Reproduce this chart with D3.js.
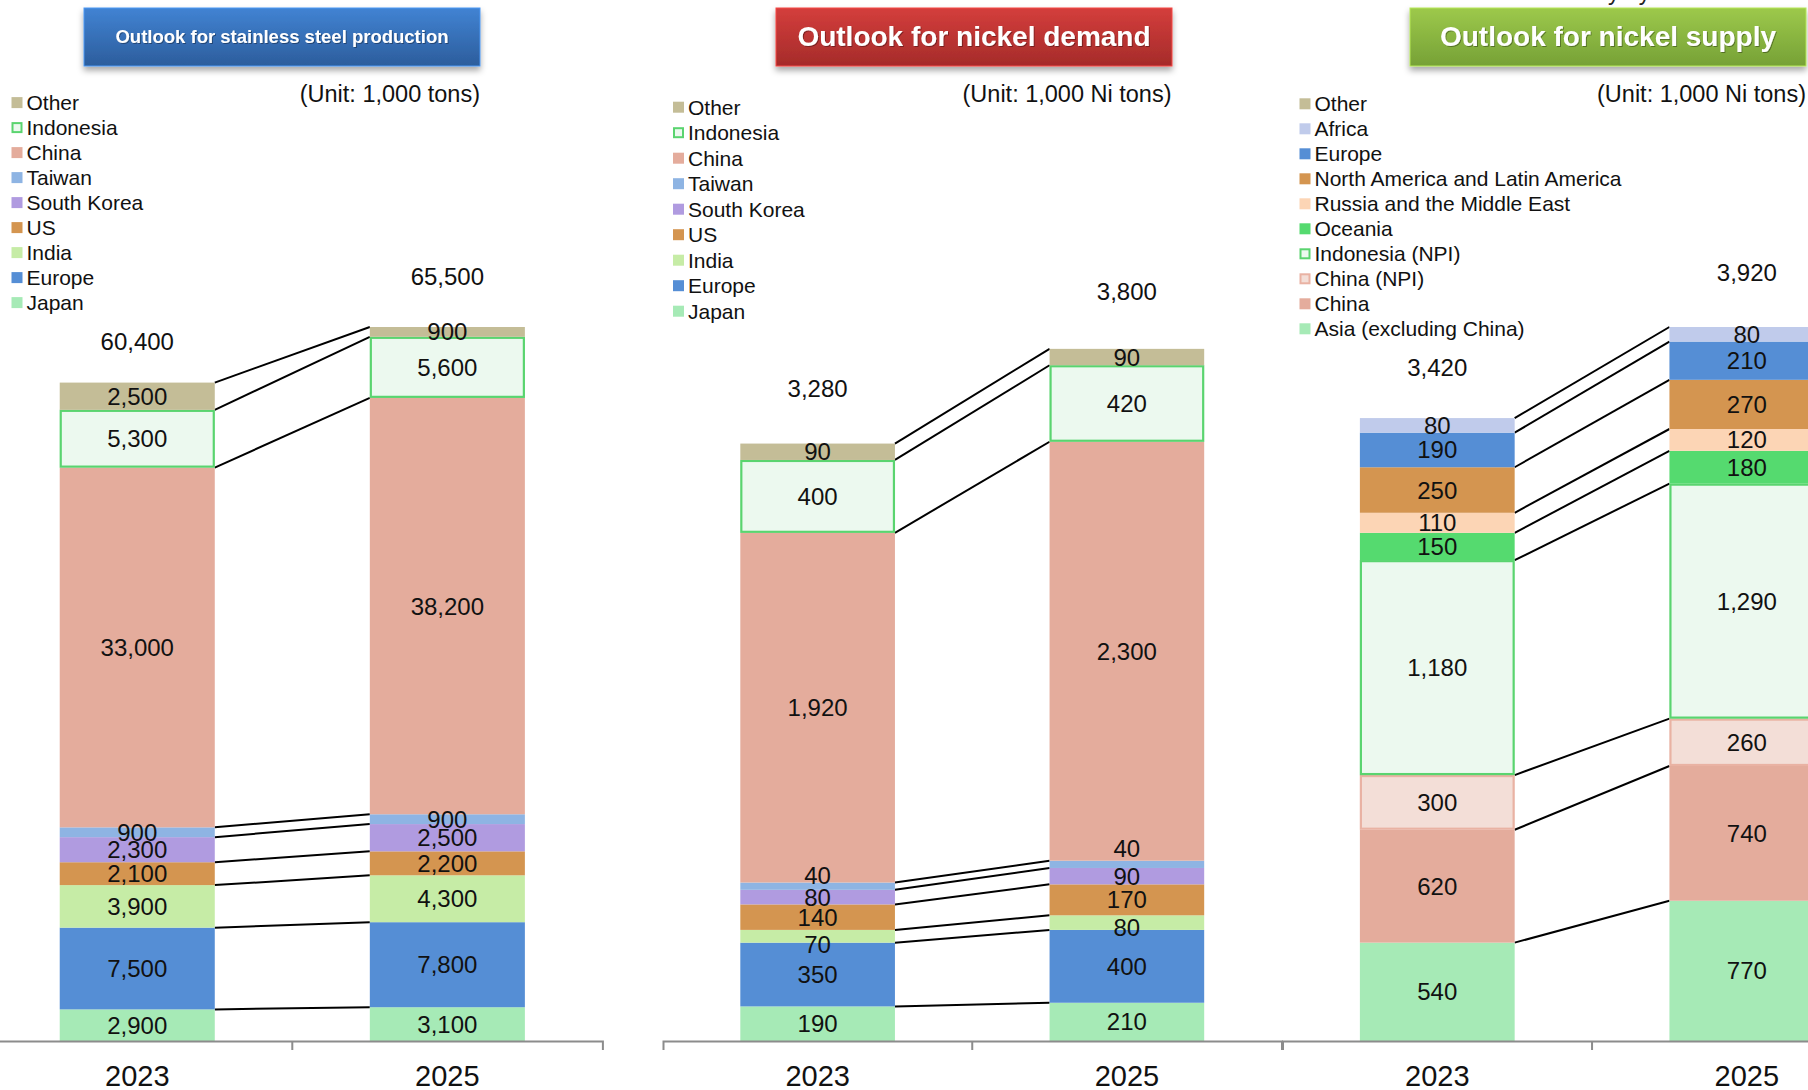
<!DOCTYPE html>
<html>
<head>
<meta charset="utf-8">
<title>Outlook for stainless steel and nickel</title>
<script src="https://cdn.jsdelivr.net/npm/d3@7"></script>
<style>
  body { margin: 0; background: #fff; }
  svg { display: block; font-family: "Liberation Sans", Arial, sans-serif; }
</style>
</head>
<body>
<script>
// ---- data ----
var years = ["2023", "2025"];

var steelSeries = ["Japan", "Europe", "India", "US", "South Korea", "Taiwan", "China", "Indonesia", "Other"];
var steel2023 = [2900, 7500, 3900, 2100, 2300, 900, 33000, 5300, 2500];
var steel2025 = [3100, 7800, 4300, 2200, 2500, 900, 38200, 5600, 900];
var steelTotals = [60400, 65500];

var demandSeries = ["Japan", "Europe", "India", "US", "South Korea", "Taiwan", "China", "Indonesia", "Other"];
var demand2023 = [190, 350, 70, 140, 80, 40, 1920, 400, 90];
var demand2025 = [210, 400, 80, 170, 90, 40, 2300, 420, 90];
var demandTotals = [3280, 3800];

var supplySeries = ["Asia (excluding China)", "China", "China (NPI)", "Indonesia (NPI)", "Oceania",
  "Russia and the Middle East", "North America and Latin America", "Europe", "Africa", "Other"];
var supply2023 = [540, 620, 300, 1180, 150, 110, 250, 190, 80, 0];
var supply2025 = [770, 740, 260, 1290, 180, 120, 270, 210, 80, 0];
var supplyTotals = [3420, 3920];

// ---- styles ----
var colors = {
  "Other": "#c4bd97",
  "Indonesia": "#ecf9ef",
  "Indonesia (NPI)": "#ecf9ef",
  "China": "#e4ac9c",
  "China (NPI)": "#f3ded7",
  "Taiwan": "#8eb4e3",
  "South Korea": "#b09be0",
  "US": "#d49550",
  "India": "#c6eca6",
  "Europe": "#558ed5",
  "Japan": "#a6eab6",
  "Asia (excluding China)": "#a6eab6",
  "Africa": "#c0cbeb",
  "North America and Latin America": "#d49550",
  "Russia and the Middle East": "#fcd5b5",
  "Oceania": "#55da6f"
};
var outlines = {
  "Indonesia": "#5ad46f",
  "Indonesia (NPI)": "#5ad46f",
  "China (NPI)": "#e9b2a3"
};

var W = 1808, H = 1090, baseY = 1041, topY = 327;

var panels = [
  {
    series: steelSeries, values: [steel2023, steel2025], totals: steelTotals, max: 65500,
    xRange: [-17.8, 602.4], totalGap: [41, 51],
    title: "Outlook for stainless steel production", titleSize: 18.5, box: [84, 396],
    grad: ["#4183d3", "#2c5d9c"], unit: "(Unit: 1,000 tons)", unitX: 480,
    legend: { x: 11.5, y: 102.6, step: 25 }, nudge: {}
  },
  {
    series: demandSeries, values: [demand2023, demand2025], totals: demandTotals, max: 3920,
    xRange: [663, 1281.5], totalGap: [55, 57],
    title: "Outlook for nickel demand", titleSize: 28, box: [776, 396],
    grad: ["#d43e3c", "#a52b2a"], unit: "(Unit: 1,000 Ni tons)", unitX: 1171.5,
    legend: { x: 673, y: 107.2, step: 25.5 },
    nudge: { "Taiwan-0": -11, "Taiwan-1": -16, "India-0": 8, "India-1": 5 }
  },
  {
    series: supplySeries, values: [supply2023, supply2025], totals: supplyTotals, max: 3920,
    xRange: [1282.5, 1901.6], totalGap: [51, 55],
    title: "Outlook for nickel supply", titleSize: 28, box: [1410, 396],
    grad: ["#9dc94b", "#76a136"], unit: "(Unit: 1,000 Ni tons)", unitX: 1806,
    legend: { x: 1299.5, y: 103.8, step: 25 }, nudge: {}
  }
];

var svg = d3.select("body").append("svg").attr("width", W).attr("height", H);
var defs = svg.append("defs");

var shadow = defs.append("filter").attr("id", "boxShadow")
  .attr("x", "-10%").attr("y", "-30%").attr("width", "120%").attr("height", "180%");
shadow.append("feDropShadow").attr("dx", 0).attr("dy", 4).attr("stdDeviation", 3)
  .attr("flood-color", "#000").attr("flood-opacity", 0.35);

var textShadow = defs.append("filter").attr("id", "textShadow");
textShadow.append("feDropShadow").attr("dx", 1).attr("dy", 1).attr("stdDeviation", 0.6)
  .attr("flood-color", "#000").attr("flood-opacity", 0.35);

// note at the very top, mostly cut off by the page edge
svg.append("text").attr("x", 1548).attr("y", 0).attr("font-size", 23)
  .attr("fill", "#222").text("Survey by Sumitomo Metal Mining");

var fmt = d3.format(",");

panels.forEach(function(p, pi) {
  var g = svg.append("g");

  // title box
  var gid = "grad" + pi;
  var lg = defs.append("linearGradient").attr("id", gid).attr("x1", 0).attr("y1", 0).attr("x2", 0).attr("y2", 1);
  lg.append("stop").attr("offset", "0%").attr("stop-color", p.grad[0]);
  lg.append("stop").attr("offset", "100%").attr("stop-color", p.grad[1]);
  g.append("rect").attr("x", p.box[0]).attr("y", 8).attr("width", p.box[1]).attr("height", 58)
    .attr("fill", "url(#" + gid + ")").attr("stroke", d3.color(p.grad[0]).brighter(0.4))
    .attr("stroke-width", 1).attr("filter", "url(#boxShadow)");
  g.append("text").attr("x", p.box[0] + p.box[1] / 2).attr("y", 36)
    .attr("text-anchor", "middle").attr("dominant-baseline", "central")
    .attr("font-size", p.titleSize).attr("font-weight", "bold").attr("fill", "#fff")
    .attr("filter", "url(#textShadow)").text(p.title);

  // unit
  g.append("text").attr("x", p.unitX).attr("y", 93.5).attr("text-anchor", "end")
    .attr("dominant-baseline", "central").attr("font-size", 23.5).attr("fill", "#111").text(p.unit);

  // legend (top = last series)
  var legendItems = p.series.slice().reverse();
  var leg = g.selectAll(".leg").data(legendItems).enter().append("g")
    .attr("transform", function(d, i) { return "translate(" + p.legend.x + "," + (p.legend.y + i * p.legend.step) + ")"; });
  leg.append("rect")
    .attr("x", function(d) { return outlines[d] ? 1 : 0; })
    .attr("y", function(d) { return outlines[d] ? -4.5 : -5.5; })
    .attr("width", function(d) { return outlines[d] ? 9 : 11; })
    .attr("height", function(d) { return outlines[d] ? 9 : 11; })
    .attr("fill", function(d) { return colors[d]; })
    .attr("stroke", function(d) { return outlines[d] || "none"; })
    .attr("stroke-width", 2);
  leg.append("text").attr("x", 15).attr("y", 0).attr("dominant-baseline", "central")
    .attr("font-size", 21).attr("fill", "#111").text(function(d) { return d; });

  // scales
  var x = d3.scaleBand().domain(years).range(p.xRange).paddingInner(0.5).paddingOuter(0.25);
  var y = d3.scaleLinear().domain([0, p.max]).range([baseY, topY]);

  var rows = years.map(function(yr, yi) {
    var r = { year: yr, yi: yi };
    p.series.forEach(function(s, si) { r[s] = p.values[yi][si]; });
    return r;
  });
  var stacked = d3.stack().keys(p.series)(rows);

  // connector lines between cumulative tops
  var links = stacked.filter(function(layer) {
    return layer[0].data[layer.key] > 0 || layer[1].data[layer.key] > 0;
  });
  g.selectAll(".link").data(links).enter().append("line")
    .attr("x1", x(years[0]) + x.bandwidth())
    .attr("x2", x(years[1]))
    .attr("y1", function(l) { return y(l[0][1]); })
    .attr("y2", function(l) { return y(l[1][1]); })
    .attr("stroke", "#000").attr("stroke-width", 2);

  // flatten segments
  var segs = [];
  stacked.forEach(function(l) {
    l.forEach(function(d) {
      if (d[1] > d[0]) segs.push({ key: l.key, v0: d[0], v1: d[1], year: d.data.year, yi: d.data.yi });
    });
  });

  // bar segments
  g.append("g").selectAll("rect").data(segs).enter().append("rect")
    .attr("x", function(d) { return x(d.year) + (outlines[d.key] ? 1 : 0); })
    .attr("width", function(d) { return x.bandwidth() - (outlines[d.key] ? 2 : 0); })
    .attr("y", function(d) { return y(d.v1) + (outlines[d.key] ? 1 : 0); })
    .attr("height", function(d) { return y(d.v0) - y(d.v1) - (outlines[d.key] ? 2 : 0); })
    .attr("fill", function(d) { return colors[d.key]; })
    .attr("stroke", function(d) { return outlines[d.key] || "none"; })
    .attr("stroke-width", 2.2);

  // segment labels, drawn on top of every bar
  g.append("g").selectAll("text").data(segs).enter().append("text")
    .attr("x", function(d) { return x(d.year) + x.bandwidth() / 2; })
    .attr("y", function(d) { return (y(d.v0) + y(d.v1)) / 2 + (p.nudge[d.key + "-" + d.yi] || 0); })
    .attr("text-anchor", "middle").attr("dominant-baseline", "central")
    .attr("font-size", 24).attr("fill", "#111")
    .text(function(d) { return fmt(d.v1 - d.v0); });

  // totals
  g.selectAll(".total").data(p.totals).enter().append("text")
    .attr("x", function(d, i) { return x(years[i]) + x.bandwidth() / 2; })
    .attr("y", function(d, i) { return y(d) - p.totalGap[i]; })
    .attr("text-anchor", "middle").attr("dominant-baseline", "central")
    .attr("font-size", 24).attr("fill", "#111").text(function(d) { return fmt(d); });

  // x axis
  var axis = d3.axisBottom(x).tickSizeInner(0).tickSizeOuter(9).tickPadding(24);
  var ax = g.append("g").attr("transform", "translate(0," + baseY + ")").call(axis);
  ax.select(".domain").attr("stroke", "#8c8c8c").attr("stroke-width", 2);
  ax.selectAll("text").attr("font-size", 29).attr("fill", "#111")
    .attr("font-family", "'Liberation Sans', Arial, sans-serif");
  var mid = (x(years[0]) + x.bandwidth() + x(years[1])) / 2;
  ax.append("line").attr("x1", mid).attr("x2", mid).attr("y1", 0).attr("y2", 9)
    .attr("stroke", "#8c8c8c").attr("stroke-width", 2);
});
</script>
</body>
</html>
